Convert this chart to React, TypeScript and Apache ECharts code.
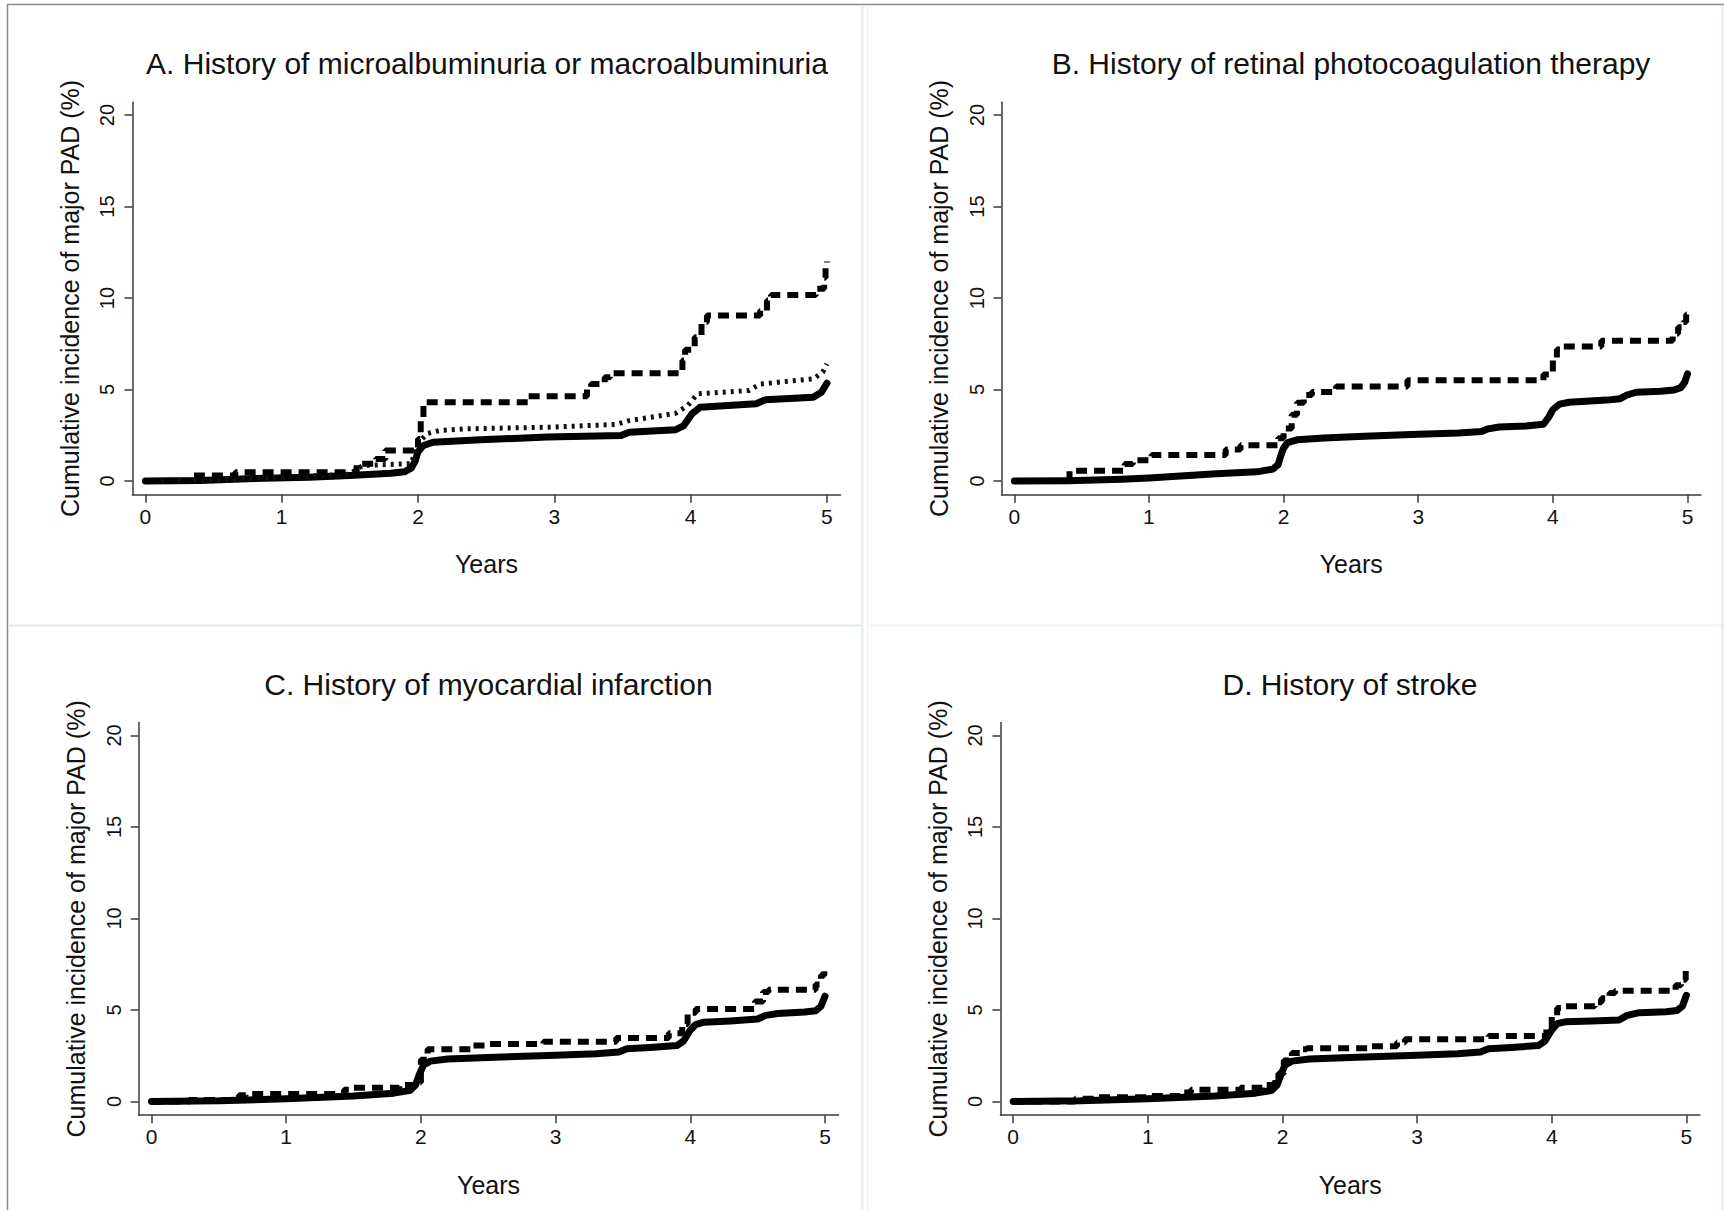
import React, { useEffect, useRef } from "react";
import * as echarts from "echarts";

// ---------- tick labels & texts ----------
const xTicks = [0, 1, 2, 3, 4, 5];
const yTicks = [0, 5, 10, 15, 20];
const panelTitles = [
  "A. History of microalbuminuria or macroalbuminuria",
  "B. History of retinal photocoagulation therapy",
  "C. History of myocardial infarction",
  "D. History of stroke",
];
const xName = "Years";
const yName = "Cumulative incidence of major PAD (%)";

// ---------- Panel A ----------
const aNoneT = [0, 0.4, 0.8, 1.2, 1.5, 1.8, 1.9, 1.95, 1.98, 2.0, 2.04, 2.11, 2.46, 2.95, 3.49, 3.55, 3.89, 3.95, 4.01, 4.07, 4.48, 4.55, 4.9, 4.96, 5.0];
const aNoneV = [0, 0.03, 0.13, 0.2, 0.3, 0.42, 0.5, 0.7, 1.1, 1.6, 1.94, 2.12, 2.25, 2.4, 2.49, 2.67, 2.8, 3.03, 3.67, 4.03, 4.22, 4.44, 4.58, 4.85, 5.34];
const aMicroT = [0, 0.5, 1.0, 1.3, 1.5, 1.56, 1.6, 1.95, 1.98, 2.0, 2.03, 2.07, 2.16, 2.35, 2.96, 3.45, 3.55, 3.89, 3.98, 4.05, 4.43, 4.51, 4.9, 4.97, 5.0];
const aMicroV = [0, 0.08, 0.2, 0.3, 0.38, 0.7, 0.85, 0.95, 1.6, 2.0, 2.3, 2.6, 2.76, 2.85, 2.94, 3.09, 3.3, 3.7, 4.13, 4.76, 4.95, 5.3, 5.58, 5.95, 6.4];
const aMacroT = [0, 0.33, 0.66, 1.55, 1.69, 1.76, 2.0, 2.02, 2.04, 2.81, 3.24, 3.27, 3.37, 3.41, 3.94, 3.96, 4.03, 4.08, 4.12, 4.51, 4.56, 4.59, 4.92, 4.98, 4.99, 5.0];
const aMacroV = [0, 0.3, 0.48, 0.94, 1.2, 1.67, 2.3, 3.4, 4.3, 4.63, 5.0, 5.3, 5.67, 5.89, 6.58, 7.17, 7.86, 8.68, 9.04, 9.3, 9.86, 10.17, 10.5, 11.1, 11.9, 12.0];

// ---------- Panel B ----------
const bNoT = [0, 0.4, 0.8, 1.0, 1.5, 1.8, 1.92, 1.96, 1.98, 2.0, 2.03, 2.1, 2.3, 2.6, 3.0, 3.3, 3.47, 3.52, 3.6, 3.8, 3.93, 3.97, 4.0, 4.05, 4.12, 4.4, 4.5, 4.55, 4.62, 4.8, 4.9, 4.95, 4.98, 5.0];
const bNoV = [0, 0.02, 0.1, 0.17, 0.4, 0.5, 0.65, 0.9, 1.4, 1.8, 2.1, 2.25, 2.35, 2.45, 2.55, 2.62, 2.7, 2.85, 2.95, 3.0, 3.1, 3.5, 3.9, 4.2, 4.3, 4.42, 4.5, 4.7, 4.85, 4.9, 4.97, 5.1, 5.4, 5.85];
const bYesT = [0, 0.41, 0.82, 0.88, 1.02, 1.57, 1.68, 1.96, 2.0, 2.06, 2.1, 2.15, 2.21, 2.39, 2.92, 3.93, 4.0, 4.03, 4.07, 4.36, 4.89, 4.93, 4.97, 4.99, 5.0];
const bYesV = [0, 0.56, 0.93, 1.14, 1.42, 1.72, 1.96, 2.33, 2.87, 3.62, 4.27, 4.7, 4.87, 5.17, 5.5, 5.82, 6.64, 7.18, 7.35, 7.67, 8.04, 8.4, 8.69, 9.1, 9.1];

// ---------- Panel C ----------
const cNoT = [0, 0.5, 1.0, 1.5, 1.8, 1.92, 1.96, 1.99, 2.02, 2.07, 2.2, 2.5, 3.0, 3.3, 3.47, 3.53, 3.7, 3.9, 3.95, 4.0, 4.04, 4.1, 4.3, 4.5, 4.56, 4.65, 4.85, 4.93, 4.97, 5.0];
const cNoV = [0, 0.03, 0.15, 0.3, 0.45, 0.6, 0.9, 1.5, 2.0, 2.2, 2.32, 2.4, 2.52, 2.6, 2.7, 2.88, 2.95, 3.05, 3.3, 3.9, 4.2, 4.33, 4.4, 4.5, 4.7, 4.8, 4.88, 4.95, 5.2, 5.75];
const cYesT = [0, 0.28, 0.65, 0.7, 1.43, 1.47, 1.84, 1.96, 2.0, 2.05, 2.38, 2.5, 2.91, 3.45, 3.84, 3.94, 3.98, 4.04, 4.48, 4.54, 4.58, 4.93, 4.97, 4.995, 5.0];
const cYesV = [0, 0.08, 0.33, 0.4, 0.64, 0.74, 0.9, 1.05, 2.28, 2.85, 3.06, 3.14, 3.26, 3.47, 3.72, 4.23, 4.85, 5.05, 5.46, 5.98, 6.1, 6.39, 6.9, 7.45, 7.45];

// ---------- Panel D ----------
const dNoT = [0, 0.5, 1.0, 1.5, 1.8, 1.92, 1.96, 1.99, 2.02, 2.07, 2.2, 2.5, 3.0, 3.3, 3.47, 3.53, 3.7, 3.9, 3.95, 4.0, 4.04, 4.1, 4.3, 4.5, 4.56, 4.65, 4.85, 4.93, 4.97, 5.0];
const dNoV = [0, 0.03, 0.15, 0.3, 0.45, 0.6, 0.9, 1.5, 2.0, 2.2, 2.32, 2.4, 2.52, 2.6, 2.7, 2.88, 2.95, 3.05, 3.3, 3.9, 4.25, 4.35, 4.4, 4.45, 4.7, 4.85, 4.9, 4.97, 5.2, 5.8];
const dYesT = [0, 0.46, 0.62, 0.99, 1.24, 1.32, 1.69, 1.85, 1.93, 1.97, 2.01, 2.07, 2.14, 2.18, 2.63, 2.85, 2.91, 3.53, 3.96, 4.0, 4.04, 4.08, 4.32, 4.37, 4.43, 4.47, 4.92, 4.96, 4.995, 5.0];
const dYesV = [0, 0.14, 0.23, 0.29, 0.49, 0.64, 0.74, 0.9, 1.0, 1.52, 2.24, 2.65, 2.85, 2.9, 3.02, 3.22, 3.39, 3.57, 3.98, 4.7, 5.1, 5.2, 5.42, 5.63, 5.93, 6.04, 6.35, 6.65, 7.17, 7.17];

// ---------- layout (pixels) ----------
const XMIN = -0.095;
const XMAX = 5.1;
const YMIN = -0.75;
const YMAX = 20.7;
const PPP = 18.3;
const panels = [
  { x0: 145.4, ppy: 136.3, y0: 481, tx: 487, ty: 63 },
  { x0: 1014.3, ppy: 134.64, y0: 481, tx: 1351, ty: 63 },
  { x0: 151.5, ppy: 134.7, y0: 1101.4, tx: 488.5, ty: 684 },
  { x0: 1013.2, ppy: 134.64, y0: 1101.4, tx: 1350, ty: 684 },
];

const FONT = "'Liberation Sans', Arial, Helvetica, sans-serif";
const AXIS_COLOR = "#3a3a3a";

const zip = (t: number[], v: number[]) => t.map((x, i) => [x, v[i]]);

type S = { p: number; t: number[]; v: number[]; kind: "solid" | "dash" | "dot" };
const seriesDefs: S[] = [
  { p: 0, t: aNoneT, v: aNoneV, kind: "solid" },
  { p: 0, t: aMicroT, v: aMicroV, kind: "dot" },
  { p: 0, t: aMacroT, v: aMacroV, kind: "dash" },
  { p: 1, t: bNoT, v: bNoV, kind: "solid" },
  { p: 1, t: bYesT, v: bYesV, kind: "dash" },
  { p: 2, t: cNoT, v: cNoV, kind: "solid" },
  { p: 2, t: cYesT, v: cYesV, kind: "dash" },
  { p: 3, t: dNoT, v: dNoV, kind: "solid" },
  { p: 3, t: dYesT, v: dYesV, kind: "dash" },
];

function buildOption() {
  const grid = panels.map((p) => ({
    left: p.x0 + XMIN * p.ppy,
    width: (XMAX - XMIN) * p.ppy,
    top: p.y0 - YMAX * PPP,
    height: (YMAX - YMIN) * PPP,
    containLabel: false,
  }));
  const xAxis = panels.map((_, i) => ({
    type: "value",
    gridIndex: i,
    min: XMIN,
    max: XMAX,
    name: xName,
    nameLocation: "middle",
    nameGap: 57,
    nameTextStyle: { fontSize: 25, color: "#111", fontFamily: FONT },
    axisLine: { show: true, onZero: false, lineStyle: { color: AXIS_COLOR, width: 1.5 } },
    axisTick: { show: true, length: 8, customValues: xTicks, lineStyle: { color: AXIS_COLOR, width: 1.5 } },
    axisLabel: { customValues: xTicks, margin: 11, fontSize: 21, color: "#111", fontFamily: FONT },
    splitLine: { show: false },
  }));
  const yAxis = panels.map((_, i) => ({
    type: "value",
    gridIndex: i,
    min: YMIN,
    max: YMAX,
    name: yName,
    nameLocation: "middle",
    nameGap: 50,
    nameTextStyle: { fontSize: 25, color: "#111", fontFamily: FONT },
    axisLine: { show: true, onZero: false, lineStyle: { color: AXIS_COLOR, width: 1.5 } },
    axisTick: { show: true, length: 8, customValues: yTicks, lineStyle: { color: AXIS_COLOR, width: 1.5 } },
    axisLabel: { customValues: yTicks, rotate: 90, margin: 15, fontSize: 20, color: "#111", fontFamily: FONT },
    splitLine: { show: false },
  }));
  const series = seriesDefs.map((s) => {
    const base: any = {
      type: "line",
      xAxisIndex: s.p,
      yAxisIndex: s.p,
      data: zip(s.t, s.v),
      showSymbol: false,
      symbol: "none",
      silent: true,
    };
    if (s.kind === "solid") {
      base.lineStyle = { color: "#000", width: 7, type: "solid", cap: "round", join: "round" };
      base.z = 2;
    } else if (s.kind === "dot") {
      base.lineStyle = { color: "#111", width: 5, type: [3, 5] };
      base.z = 3;
    } else {
      base.step = "end";
      base.lineStyle = { color: "#000", width: 6, type: [11, 7] };
      base.z = 4;
    }
    return base;
  });
  const title = panels.map((p, i) => ({
    text: panelTitles[i],
    left: p.tx - 5,
    top: p.ty - 5,
    textAlign: "center",
    textVerticalAlign: "middle",
    textStyle: { fontSize: 30, fontWeight: "normal", color: "#111", fontFamily: FONT },
  }));
  const frameColor = "#8a8a8a";
  const sepColor = "#e0ecf0";
  const graphic = [
    { type: "line", shape: { x1: 7, y1: 4.5, x2: 1724, y2: 4.5 }, style: { stroke: frameColor, lineWidth: 1.5 }, silent: true },
    { type: "line", shape: { x1: 7.5, y1: 4, x2: 7.5, y2: 1210 }, style: { stroke: frameColor, lineWidth: 1.5 }, silent: true },
    { type: "line", shape: { x1: 862.5, y1: 5, x2: 862.5, y2: 1210 }, style: { stroke: sepColor, lineWidth: 2 }, silent: true },
    { type: "line", shape: { x1: 867.5, y1: 5, x2: 867.5, y2: 1210 }, style: { stroke: "#edf4f6", lineWidth: 1.5 }, silent: true },
    { type: "line", shape: { x1: 8, y1: 625.5, x2: 862, y2: 625.5 }, style: { stroke: sepColor, lineWidth: 2 }, silent: true },
    { type: "line", shape: { x1: 868, y1: 625.5, x2: 1722, y2: 625.5 }, style: { stroke: "#edf4f6", lineWidth: 2 }, silent: true },
    { type: "line", shape: { x1: 1722.5, y1: 5, x2: 1722.5, y2: 1210 }, style: { stroke: sepColor, lineWidth: 2 }, silent: true },
  ];
  return {
    animation: false,
    backgroundColor: "#ffffff",
    title,
    grid,
    xAxis,
    yAxis,
    series,
    graphic,
  };
}

export default function App() {
  const ref = useRef<HTMLDivElement | null>(null);
  useEffect(() => {
    document.body.style.margin = "0";
    if (!ref.current) return;
    const chart = echarts.init(ref.current, undefined, { renderer: "svg" });
    chart.setOption(buildOption() as any);
    return () => {
      chart.dispose();
    };
  }, []);
  return <div ref={ref} style={{ width: 1724, height: 1210 }} />;
}
